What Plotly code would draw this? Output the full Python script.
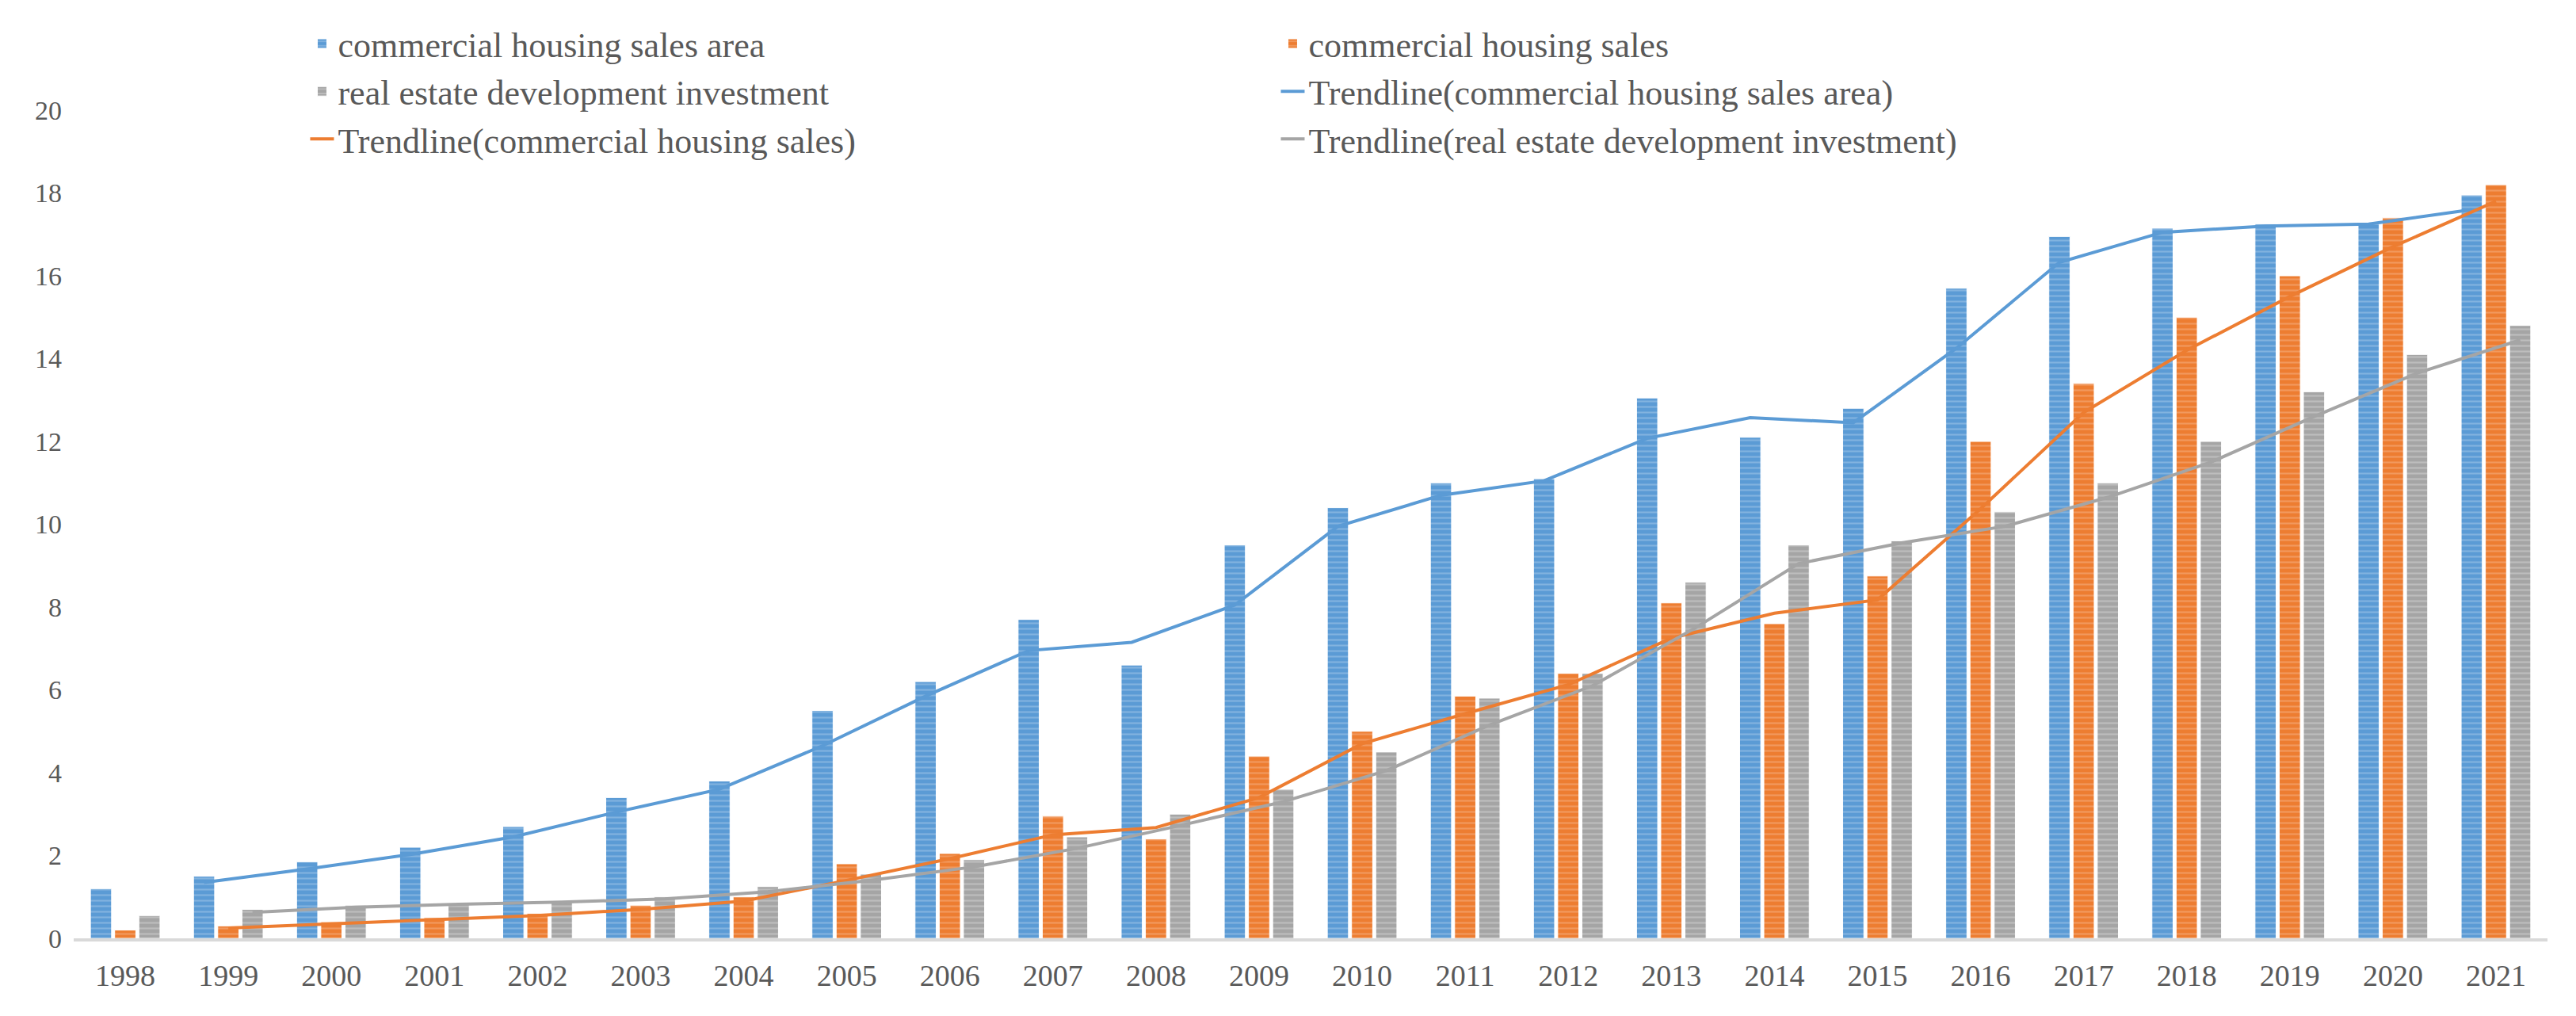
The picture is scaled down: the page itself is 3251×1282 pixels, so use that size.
import numpy as np
import pandas as pd
import plotly.graph_objects as go

years = list(range(1998, 2022))
sales_area = [1.2, 1.5, 1.85, 2.2, 2.7, 3.4, 3.8, 5.5, 6.2, 7.7, 6.6, 9.5,
              10.4, 11.0, 11.1, 13.05, 12.1, 12.8, 15.7, 16.95, 17.15, 17.25, 17.25, 17.95]
sales = [0.2, 0.3, 0.4, 0.5, 0.6, 0.8, 1.0, 1.8, 2.05, 2.95, 2.4, 4.4,
         5.0, 5.85, 6.4, 8.1, 7.6, 8.75, 12.0, 13.4, 15.0, 16.0, 17.4, 18.2]
investment = [0.55, 0.7, 0.8, 0.85, 0.9, 1.0, 1.25, 1.55, 1.9, 2.45, 3.0, 3.6,
              4.5, 5.8, 6.4, 8.6, 9.5, 9.6, 10.3, 11.0, 12.0, 13.2, 14.1, 14.8]

names = ["commercial housing sales area", "commercial housing sales",
         "real estate development investment"]
colors = ["#5B9BD5", "#ED7D31", "#A5A5A5"]
stripes = ["#A9CBEA", "#F6B68C", "#D6D6D6"]
series = [sales_area, sales, investment]

W = 3251
H = 1282
FONT = "Liberation Serif"
TXT = "#595959"

bar_w = 0.205
pitch = 0.235
centers = [-pitch, 0.0, pitch]

fig = go.Figure()
x = np.array(years, dtype=float)
for name, col, st, vals, c in zip(names, colors, stripes, series, centers):
    fig.add_trace(go.Bar(
        x=x, y=vals, name=name, width=bar_w, offset=c - bar_w / 2,
        marker=dict(color=col, line=dict(color="white", width=1),
                    pattern=dict(shape="-", fillmode="overlay", fgcolor=st,
                                 size=7, solidity=0.3)),
    ))

for name, col, vals, c in zip(names, colors, series, centers):
    ma = pd.Series(vals).rolling(2).mean().to_numpy()[1:]
    fig.add_trace(go.Scatter(
        x=x[1:] + c, y=ma, mode="lines", name="Trendline(" + name + ")",
        line=dict(color=col, width=4),
    ))

L, R, T, B = 85, 44, 122, 106
fig.update_layout(
    width=W, height=H,
    margin=dict(l=L, r=R, t=T, b=B),
    plot_bgcolor="white", paper_bgcolor="white",
    barmode="overlay",
    font=dict(family=FONT, color=TXT),
    showlegend=True,
    legend=dict(orientation="h", x=0.094, xanchor="left", y=1.114, yanchor="top",
                font=dict(family=FONT, size=44, color=TXT),
                entrywidth=1180, entrywidthmode="pixels",
                itemwidth=30, bgcolor="rgba(0,0,0,0)", tracegroupgap=0,
                traceorder="normal"),
    xaxis=dict(range=[1997.5, 2021.5], tickmode="array", tickvals=years,
               ticktext=[str(y) for y in years], showgrid=False, zeroline=False,
               showline=True, linecolor="#D9D9D9", linewidth=4, ticks="",
               tickfont=dict(family=FONT, size=38, color=TXT), ticklabelstandoff=10),
    yaxis=dict(range=[0, 20], tickmode="array", tickvals=list(range(0, 21, 2)),
               showgrid=False, zeroline=False, showline=False, ticks="",
               tickfont=dict(family=FONT, size=34, color=TXT), ticklabelstandoff=14),
)

fig.write_html("out.html")
